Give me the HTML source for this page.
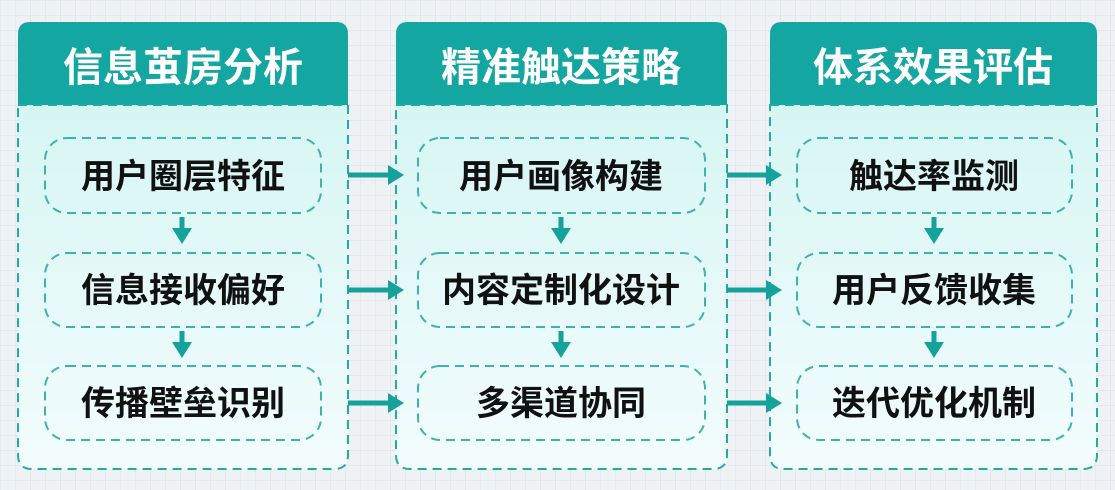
<!DOCTYPE html>
<html><head><meta charset="utf-8"><style>
html,body{margin:0;padding:0;width:1115px;height:490px;overflow:hidden;}
body{background-color:#eef2f4;background-image:linear-gradient(#e2e8ec 1px,transparent 1px),linear-gradient(90deg,#e2e8ec 1px,transparent 1px);background-size:15px 15px;}
text{font-family:"Liberation Sans","Noto Sans CJK SC",sans-serif;font-weight:bold;text-anchor:middle;}
</style></head><body>
<svg width="1115" height="490" xmlns="http://www.w3.org/2000/svg">
<defs>
<linearGradient id="bg" x1="0" y1="0" x2="0" y2="1"><stop offset="0" stop-color="#d6f6f3"/><stop offset="1" stop-color="#f3fcfd"/></linearGradient>
<marker id="ah" markerWidth="4" markerHeight="4" refX="2" refY="2" orient="auto" markerUnits="strokeWidth"><path d="M0,0 L3.2,2 L0,4 z" fill="#16a29c"/></marker>
</defs>
<path d="M18,105 V34 Q18,22 30,22 H336 Q348,22 348,34 V105 Z" fill="#14a7a2"/>
<path d="M18,105 H348 V455 Q348,469 334,469 H32 Q18,469 18,455 Z" fill="url(#bg)" stroke="#22aaa5" stroke-width="2" stroke-dasharray="9,6"/>
<text x="183" y="81" font-size="40" fill="#fff">信息茧房分析</text>
<path d="M396,105 V34 Q396,22 408,22 H715 Q727,22 727,34 V105 Z" fill="#14a7a2"/>
<path d="M396,105 H727 V455 Q727,469 713,469 H410 Q396,469 396,455 Z" fill="url(#bg)" stroke="#22aaa5" stroke-width="2" stroke-dasharray="9,6"/>
<text x="561" y="81" font-size="40" fill="#fff">精准触达策略</text>
<path d="M770,105 V34 Q770,22 782,22 H1085 Q1097,22 1097,34 V105 Z" fill="#14a7a2"/>
<path d="M770,105 H1097 V455 Q1097,469 1083,469 H784 Q770,469 770,455 Z" fill="url(#bg)" stroke="#22aaa5" stroke-width="2" stroke-dasharray="9,6"/>
<text x="933" y="81" font-size="40" fill="#fff">体系效果评估</text>
<g fill="none" stroke="#3db3ad" stroke-width="2" stroke-dasharray="9,6">
<rect x="45" y="138" width="276" height="75" rx="22"/>
<rect x="45" y="253" width="276" height="74" rx="22"/>
<rect x="45" y="366" width="276" height="74" rx="22"/>
<rect x="418" y="138" width="287" height="75" rx="22"/>
<rect x="418" y="253" width="287" height="74" rx="22"/>
<rect x="418" y="366" width="287" height="74" rx="22"/>
<rect x="797" y="138" width="275" height="75" rx="22"/>
<rect x="797" y="253" width="275" height="74" rx="22"/>
<rect x="797" y="366" width="275" height="74" rx="22"/>
</g>
<g font-size="34" fill="#111">
<text x="183" y="188">用户圈层特征</text>
<text x="183" y="302">信息接收偏好</text>
<text x="183" y="415">传播壁垒识别</text>
<text x="561" y="188">用户画像构建</text>
<text x="561" y="302">内容定制化设计</text>
<text x="561" y="415">多渠道协同</text>
<text x="934" y="188">触达率监测</text>
<text x="934" y="302">用户反馈收集</text>
<text x="934" y="415">迭代优化机制</text>
</g>
<g stroke="#16a29c" stroke-width="5" marker-end="url(#ah)">
<line x1="348" y1="175" x2="398" y2="175"/>
<line x1="348" y1="290" x2="398" y2="290"/>
<line x1="348" y1="403" x2="398" y2="403"/>
<line x1="727" y1="175" x2="776" y2="175"/>
<line x1="727" y1="290" x2="776" y2="290"/>
<line x1="727" y1="403" x2="776" y2="403"/>
<line x1="182" y1="217" x2="182" y2="238"/>
<line x1="182" y1="331" x2="182" y2="352"/>
<line x1="561" y1="217" x2="561" y2="238"/>
<line x1="561" y1="331" x2="561" y2="352"/>
<line x1="934" y1="217" x2="934" y2="238"/>
<line x1="934" y1="331" x2="934" y2="352"/>
</g>
</svg>
</body></html>
